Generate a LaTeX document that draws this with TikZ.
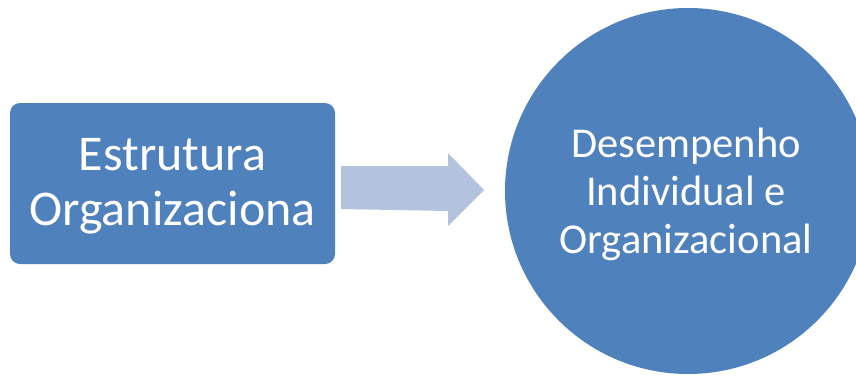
\documentclass[tikz,border=0pt]{standalone}
\usepackage{fontspec}
\setmainfont{Carlito}
\definecolor{boxblue}{HTML}{4F81BD}
\definecolor{arrowblue}{HTML}{B3C3DD}
\begin{document}
\begin{tikzpicture}[x=1pt,y=-1pt,
  boxstyle/.style={fill=boxblue, draw=none, rounded corners=10pt, rectangle, inner sep=0pt, minimum width=325pt, minimum height=161pt},
  circstyle/.style={fill=boxblue, draw=none, circle, inner sep=0pt, minimum size=366pt},
  labelstyle/.style={text=white, align=center, inner sep=0pt}]
\useasboundingbox (0,0) rectangle (856,378);
\clip (0,0) rectangle (856,378);
\node[boxstyle] (box) at (172.5,183.5) {};
\node[labelstyle, font=\fontsize{50}{55}\selectfont] (a) at (172.5,186) {Estrutura\\Organizaciona};
\node[circstyle] (circ) at (688,191) {};
\node[labelstyle, font=\fontsize{42.5}{48}\selectfont] (b) at (686,194) {Desempenho\\Individual e\\Organizacional};
\coordinate (s1) at (341,166);
\coordinate (s2) at (448,166);
\coordinate (h1) at (448,153);
\coordinate (tip) at (484,190);
\coordinate (h2) at (448,226);
\coordinate (s3) at (448,211);
\coordinate (s4) at (341,209);
\fill[arrowblue] (s1) -- (s2) -- (h1) -- (tip) -- (h2) -- (s3) -- (s4) -- cycle;
\end{tikzpicture}
\end{document}
